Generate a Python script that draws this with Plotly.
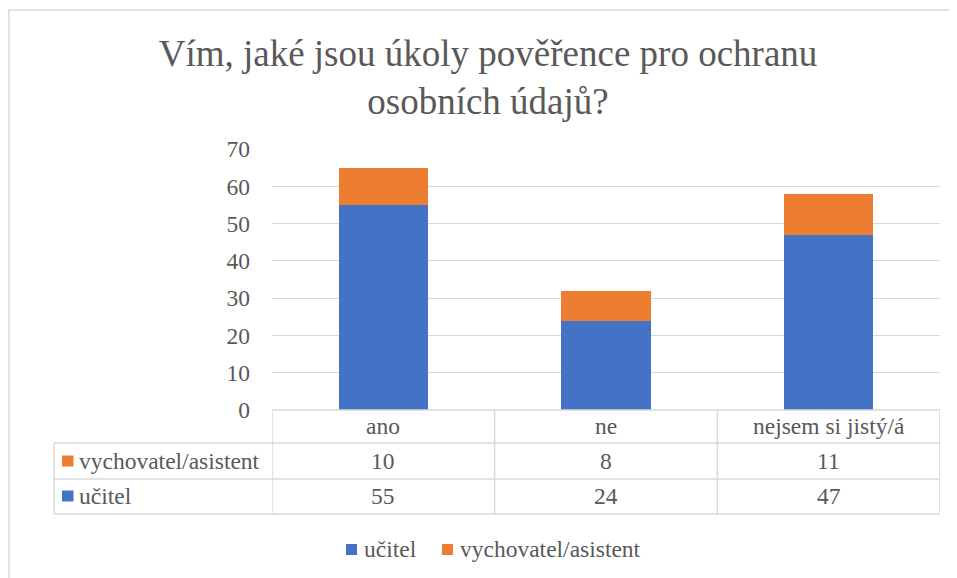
import plotly.graph_objects as go

categories = ["ano", "ne", "nejsem si jistý/á"]
series_names = ["učitel", "vychovatel/asistent"]
ucitel = [55, 24, 47]
vychovatel = [10, 8, 11]
y_ticks = [0, 10, 20, 30, 40, 50, 60, 70]
title_text = "Vím, jaké jsou úkoly pověřence pro ochranu<br>osobních údajů?"

BLUE = "#4472C4"
ORANGE = "#ED7D31"
TXT = "#595959"
GRID = "#D9D9D9"
FONT = "Liberation Serif"

# page offset of the plot div (browser default body margin)
OFF = 8
W, H = 957 - OFF, 578 - OFF
# plot area in page pixel coordinates
PX0, PX1, PY0, PY1 = 272, 940, 149, 410
L, R, T, B = PX0 - OFF, W - (PX1 - OFF), PY0 - OFF, H - (PY1 - OFF)
PW = PX1 - PX0
PH = PY1 - PY0


def px_x(px):
    return (px - PX0) / PW


def px_y(py):
    return (PY1 - py) / PH


fig = go.Figure()
fig.add_trace(go.Bar(x=categories, y=ucitel, name=series_names[0], marker_color=BLUE,
                     marker_line_width=0, showlegend=False))
fig.add_trace(go.Bar(x=categories, y=vychovatel, name=series_names[1], marker_color=ORANGE,
                     marker_line_width=0, showlegend=False))

shapes = []
line = dict(color=GRID, width=1.5)
# outer chart border (left and top visible)
shapes.append(dict(type="rect", xref="paper", yref="paper", x0=px_x(9), x1=px_x(1000),
                   y0=px_y(10), y1=px_y(620), line=dict(color=GRID, width=1.5), layer="below"))
# table horizontal lines
shapes.append(dict(type="line", xref="paper", yref="paper", x0=0, x1=1, y0=0, y1=0, line=line))
for py in [443, 479, 514]:
    shapes.append(dict(type="line", xref="paper", yref="paper", x0=px_x(54), x1=1,
                       y0=px_y(py), y1=px_y(py), line=line))
# table vertical lines at category boundaries
for i in range(len(categories) + 1):
    shapes.append(dict(type="line", xref="x", yref="paper", x0=i - 0.5, x1=i - 0.5,
                       y0=0, y1=px_y(514), line=line))
shapes.append(dict(type="line", xref="paper", yref="paper", x0=px_x(54), x1=px_x(54),
                   y0=px_y(443), y1=px_y(514), line=line))

annotations = []
fs = 23.5
tfont = dict(family=FONT, size=fs, color=TXT)
# header row
for i, c in enumerate(categories):
    annotations.append(dict(x=i, y=px_y(426), xref="x", yref="paper", text=c, showarrow=False,
                            xanchor="center", yanchor="middle", font=tfont))
rows = [(series_names[1], vychovatel, ORANGE, 461), (series_names[0], ucitel, BLUE, 496)]
for name, vals, col, py in rows:
    shapes.append(dict(type="rect", xref="paper", yref="paper", x0=px_x(62), x1=px_x(73.5),
                       y0=px_y(py + 5.5), y1=px_y(py - 5.5), fillcolor=col, line=dict(width=0)))
    annotations.append(dict(x=px_x(77), y=px_y(py), xref="paper", yref="paper", text=name,
                            showarrow=False, xanchor="left", yanchor="middle", font=tfont))
    for i, v in enumerate(vals):
        annotations.append(dict(x=i, y=px_y(py), xref="x", yref="paper", text=str(v),
                                showarrow=False, xanchor="center", yanchor="middle", font=tfont))

# bottom legend
legend_items = [(series_names[0], BLUE, 346), (series_names[1], ORANGE, 442)]
for name, col, x0 in legend_items:
    shapes.append(dict(type="rect", xref="paper", yref="paper", x0=px_x(x0), x1=px_x(x0 + 11),
                       y0=px_y(555), y1=px_y(544), fillcolor=col, line=dict(width=0)))
    annotations.append(dict(x=px_x(x0 + 15.5), y=px_y(549), xref="paper", yref="paper", text=name,
                            showarrow=False, xanchor="left", yanchor="middle", font=tfont))

fig.update_layout(
    width=W, height=H,
    margin=dict(l=L, r=R, t=T, b=B, pad=0),
    font=dict(family=FONT, size=fs, color=TXT),
    barmode="stack",
    bargap=0.6,
    paper_bgcolor="white",
    plot_bgcolor="white",
    title=dict(text=title_text, x=(488 - OFF) / W, xanchor="center",
               y=1 - (66 - OFF) / H, yanchor="middle",
               font=dict(family=FONT, size=37, color=TXT)),
    xaxis=dict(showticklabels=False, showgrid=False, zeroline=False, showline=False,
               range=[-0.5, 2.5]),
    yaxis=dict(range=[0, 70], tickvals=y_ticks, showgrid=True, gridcolor=GRID, gridwidth=1,
               zeroline=False, showline=False, ticklabelstandoff=21,
               tickfont=tfont),
    shapes=shapes,
    annotations=annotations,
    showlegend=False,
)

fig.write_html("out.html")
